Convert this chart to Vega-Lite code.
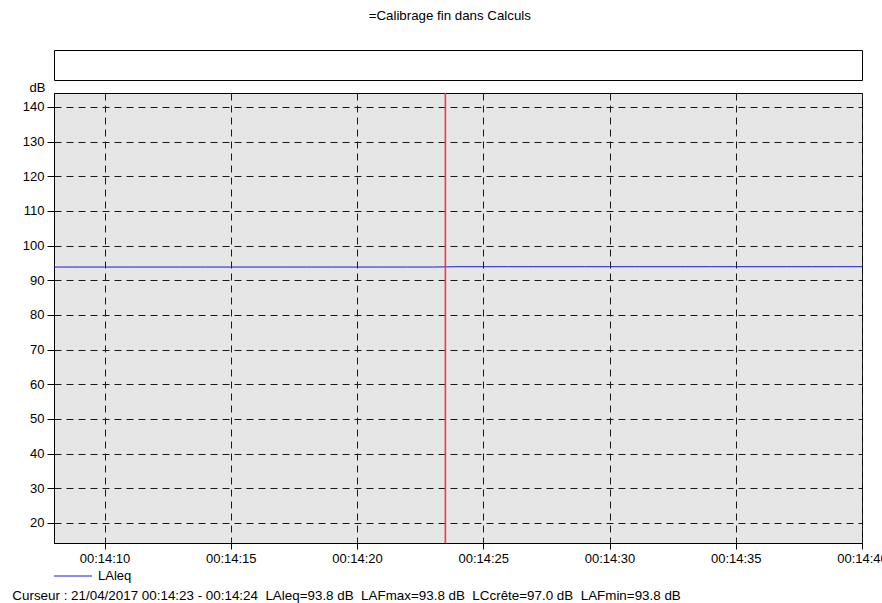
{
  "$schema": "https://vega.github.io/schema/vega-lite/v6.json",
  "background": "white",
  "padding": {"left": 11, "top": 9, "right": 0, "bottom": 0},
  "title": {"text": "=Calibrage fin dans Calculs", "anchor": "middle", "font": "Liberation Sans", "fontSize": 13.3, "fontWeight": "normal", "color": "black", "offset": 27},
  "spacing": 13,
  "bounds": "flush",
  "vconcat": [
    {
      "width": 808,
      "height": 30,
      "data": {"values": [{"label": ""}]},
      "mark": {"type": "text"},
      "encoding": {"text": {"field": "label"}},
      "view": {"fill": "white", "stroke": "black", "strokeWidth": 1}
    },
    {
      "width": 808,
      "height": 450,
      "title": {"text": "Curseur : 21/04/2017 00:14:23 - 00:14:24 \u00a0LAleq=93.8 dB \u00a0LAFmax=93.8 dB \u00a0LCcrête=97.0 dB \u00a0LAFmin=93.8 dB", "orient": "bottom", "anchor": "start", "frame": "bounds", "font": "Liberation Sans", "fontSize": 13.4, "fontWeight": "normal", "color": "black", "offset": 24, "dx": -10},
      "view": {"fill": "#e6e6e6", "stroke": "black", "strokeWidth": 1},
      "layer": [
        {
          "data": {"values": [
            {"time": "2017-04-21T00:14:08Z", "dB": 93.8, "serie": "LAleq"},
            {"time": "2017-04-21T00:14:09Z", "dB": 93.8, "serie": "LAleq"},
            {"time": "2017-04-21T00:14:10Z", "dB": 93.8, "serie": "LAleq"},
            {"time": "2017-04-21T00:14:11Z", "dB": 93.8, "serie": "LAleq"},
            {"time": "2017-04-21T00:14:12Z", "dB": 93.8, "serie": "LAleq"},
            {"time": "2017-04-21T00:14:13Z", "dB": 93.8, "serie": "LAleq"},
            {"time": "2017-04-21T00:14:14Z", "dB": 93.8, "serie": "LAleq"},
            {"time": "2017-04-21T00:14:15Z", "dB": 93.8, "serie": "LAleq"},
            {"time": "2017-04-21T00:14:16Z", "dB": 93.8, "serie": "LAleq"},
            {"time": "2017-04-21T00:14:17Z", "dB": 93.8, "serie": "LAleq"},
            {"time": "2017-04-21T00:14:18Z", "dB": 93.8, "serie": "LAleq"},
            {"time": "2017-04-21T00:14:19Z", "dB": 93.8, "serie": "LAleq"},
            {"time": "2017-04-21T00:14:20Z", "dB": 93.8, "serie": "LAleq"},
            {"time": "2017-04-21T00:14:21Z", "dB": 93.8, "serie": "LAleq"},
            {"time": "2017-04-21T00:14:22Z", "dB": 93.8, "serie": "LAleq"},
            {"time": "2017-04-21T00:14:23Z", "dB": 93.8, "serie": "LAleq"},
            {"time": "2017-04-21T00:14:24Z", "dB": 93.9, "serie": "LAleq"},
            {"time": "2017-04-21T00:14:25Z", "dB": 93.9, "serie": "LAleq"},
            {"time": "2017-04-21T00:14:26Z", "dB": 93.9, "serie": "LAleq"},
            {"time": "2017-04-21T00:14:27Z", "dB": 93.9, "serie": "LAleq"},
            {"time": "2017-04-21T00:14:28Z", "dB": 93.9, "serie": "LAleq"},
            {"time": "2017-04-21T00:14:29Z", "dB": 93.9, "serie": "LAleq"},
            {"time": "2017-04-21T00:14:30Z", "dB": 93.9, "serie": "LAleq"},
            {"time": "2017-04-21T00:14:31Z", "dB": 93.9, "serie": "LAleq"},
            {"time": "2017-04-21T00:14:32Z", "dB": 93.9, "serie": "LAleq"},
            {"time": "2017-04-21T00:14:33Z", "dB": 93.9, "serie": "LAleq"},
            {"time": "2017-04-21T00:14:34Z", "dB": 93.9, "serie": "LAleq"},
            {"time": "2017-04-21T00:14:35Z", "dB": 93.9, "serie": "LAleq"},
            {"time": "2017-04-21T00:14:36Z", "dB": 93.9, "serie": "LAleq"},
            {"time": "2017-04-21T00:14:37Z", "dB": 93.9, "serie": "LAleq"},
            {"time": "2017-04-21T00:14:38Z", "dB": 93.9, "serie": "LAleq"},
            {"time": "2017-04-21T00:14:39Z", "dB": 93.9, "serie": "LAleq"},
            {"time": "2017-04-21T00:14:40Z", "dB": 93.9, "serie": "LAleq"}
          ]},
          "mark": {"type": "line", "strokeWidth": 1, "clip": true},
          "encoding": {
            "x": {
              "field": "time", "type": "temporal",
              "scale": {"type": "utc", "domain": [
                {"year": 2017, "month": 4, "date": 21, "hours": 0, "minutes": 14, "seconds": 8, "utc": true},
                {"year": 2017, "month": 4, "date": 21, "hours": 0, "minutes": 14, "seconds": 40, "utc": true}
              ], "nice": false},
              "axis": {
                "title": null,
                "labelExpr": "utcFormat(datum.value, '%H:%M:%S')",
                "values": [
                  {"year": 2017, "month": 4, "date": 21, "hours": 0, "minutes": 14, "seconds": 10, "utc": true},
                  {"year": 2017, "month": 4, "date": 21, "hours": 0, "minutes": 14, "seconds": 15, "utc": true},
                  {"year": 2017, "month": 4, "date": 21, "hours": 0, "minutes": 14, "seconds": 20, "utc": true},
                  {"year": 2017, "month": 4, "date": 21, "hours": 0, "minutes": 14, "seconds": 25, "utc": true},
                  {"year": 2017, "month": 4, "date": 21, "hours": 0, "minutes": 14, "seconds": 30, "utc": true},
                  {"year": 2017, "month": 4, "date": 21, "hours": 0, "minutes": 14, "seconds": 35, "utc": true},
                  {"year": 2017, "month": 4, "date": 21, "hours": 0, "minutes": 14, "seconds": 40, "utc": true}
                ],
                "labelAngle": 0,
                "labelPadding": 3,
                "labelOverlap": false,
                "labelFlush": false
              }
            },
            "y": {
              "field": "dB", "type": "quantitative",
              "scale": {"domain": [14.2, 144], "nice": false, "zero": false},
              "axis": {
                "title": "dB",
                "titleAngle": 0,
                "titleX": -17,
                "titleY": -2,
                "titleAlign": "center",
                "titleBaseline": "alphabetic",
                "values": [20, 30, 40, 50, 60, 70, 80, 90, 100, 110, 120, 130, 140],
                "tickSize": 7,
                "labelPadding": 3
              }
            },
            "color": {
              "field": "serie", "type": "nominal",
              "scale": {"range": ["#1a1ad6"]},
              "legend": {
                "title": null,
                "orient": "none",
                "legendX": -1,
                "legendY": 506,
                "direction": "horizontal",
                "symbolType": "stroke",
                "symbolSize": 1444,
                "symbolStrokeWidth": 1.2,
                "symbolStrokeColor": "#5a5aff",
                "labelFontSize": 13,
                "labelOffset": 5,
                "padding": 0
              }
            }
          }
        },
        {
          "data": {"values": [{"time": "2017-04-21T00:14:23.500Z"}]},
          "mark": {"type": "rule", "color": "#f03c3c", "strokeWidth": 1.6},
          "encoding": {"x": {"field": "time", "type": "temporal"}}
        }
      ]
    }
  ],
  "config": {
    "font": "Liberation Sans",
    "axis": {
      "labelFont": "Liberation Sans",
      "labelFontSize": 13,
      "labelColor": "black",
      "titleFont": "Liberation Sans",
      "titleFontSize": 13,
      "titleFontWeight": "normal",
      "titleColor": "black",
      "domainColor": "black",
      "tickColor": "black",
      "tickSize": 6,
      "grid": true,
      "gridColor": "#1a1a1a",
      "gridDash": [7, 5],
      "gridWidth": 1,
      "gridOpacity": 1
    },
    "legend": {
      "labelFont": "Liberation Sans",
      "labelColor": "black"
    }
  }
}
